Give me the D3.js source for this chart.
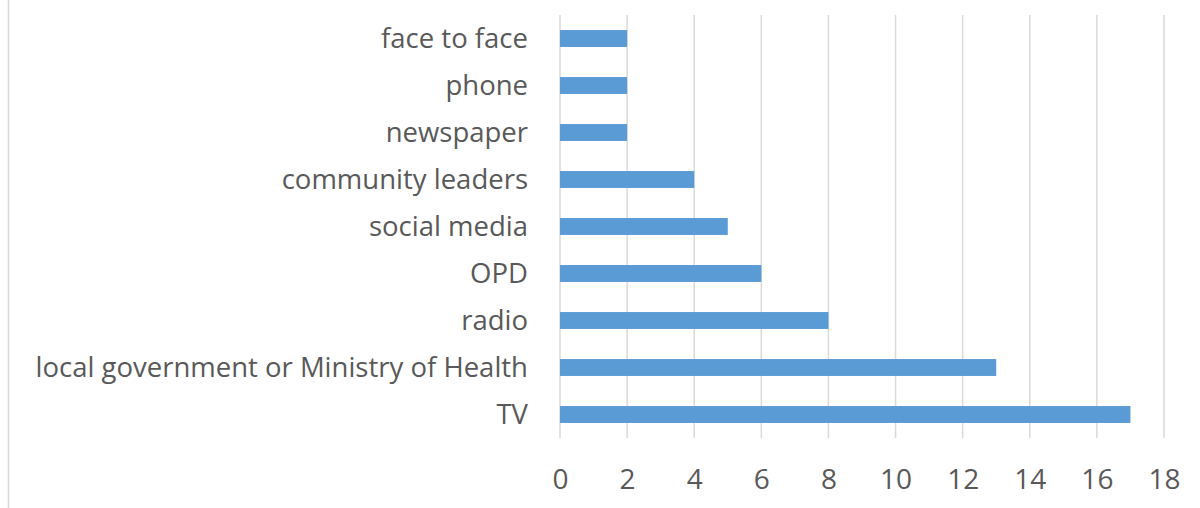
<!DOCTYPE html>
<html>
<head>
<meta charset="utf-8">
<script src="https://cdn.jsdelivr.net/npm/d3@7"></script>
<style>
  html, body { margin: 0; padding: 0; background: #fff; }
  svg { display: block; }
</style>
</head>
<body>
<svg id="chart" width="1200" height="508"></svg>
<script>
// Information sources, top to bottom
const categories = [
  "face to face",
  "phone",
  "newspaper",
  "community leaders",
  "social media",
  "OPD",
  "radio",
  "local government or Ministry of Health",
  "TV"
];
const counts = [2, 2, 2, 4, 5, 6, 8, 13, 17];
const xTicks = [0, 2, 4, 6, 8, 10, 12, 14, 16, 18];

const svg = d3.select("#chart");
const W = 1200, H = 508;
const plot = { left: 560, right: 1164, top: 15, bottom: 438 };
const fontFamily = "'Open Sans', 'Noto Sans', sans-serif";
const textColor = "#595959";
const gridColor = "#d9d9d9";
const barColor = "#5B9BD5";

// Chart-area border (only the left edge falls inside the frame)
svg.append("rect")
  .attr("x", 8.5).attr("y", -2)
  .attr("width", W + 10).attr("height", H + 10)
  .attr("fill", "none")
  .attr("stroke", gridColor)
  .attr("stroke-width", 1.5);

const x = d3.scaleLinear().domain([0, 18]).range([plot.left, plot.right]);
const y = d3.scaleBand().domain(categories).range([plot.top, plot.bottom])
  .paddingInner(0.64).paddingOuter(0.32);

// Vertical gridlines
svg.append("g")
  .selectAll("line")
  .data(xTicks)
  .join("line")
  .attr("x1", d => x(d)).attr("x2", d => x(d))
  .attr("y1", plot.top).attr("y2", plot.bottom)
  .attr("stroke", gridColor)
  .attr("stroke-width", 1.5);

// Bars
svg.append("g")
  .selectAll("rect")
  .data(categories.map((c, i) => ({ c, v: counts[i] })))
  .join("rect")
  .attr("x", x(0))
  .attr("y", d => y(d.c))
  .attr("width", d => x(d.v) - x(0))
  .attr("height", y.bandwidth())
  .attr("fill", barColor);

// Category axis
const yAxis = svg.append("g")
  .attr("transform", `translate(${x(0) - 32},0)`)
  .call(d3.axisLeft(y).tickSize(0).tickPadding(0));
yAxis.select(".domain").remove();
yAxis.selectAll("text")
  .attr("font-family", fontFamily)
  .attr("font-size", 27.5)
  .attr("fill", textColor)
  .attr("dy", "0.34em");

// Value axis
const xAxis = svg.append("g")
  .attr("transform", `translate(0,${plot.bottom})`)
  .call(d3.axisBottom(x).tickValues(xTicks).tickSize(0).tickPadding(31));
xAxis.select(".domain").remove();
xAxis.selectAll("text")
  .attr("font-family", fontFamily)
  .attr("font-size", 28)
  .attr("fill", textColor);
</script>
</body>
</html>
